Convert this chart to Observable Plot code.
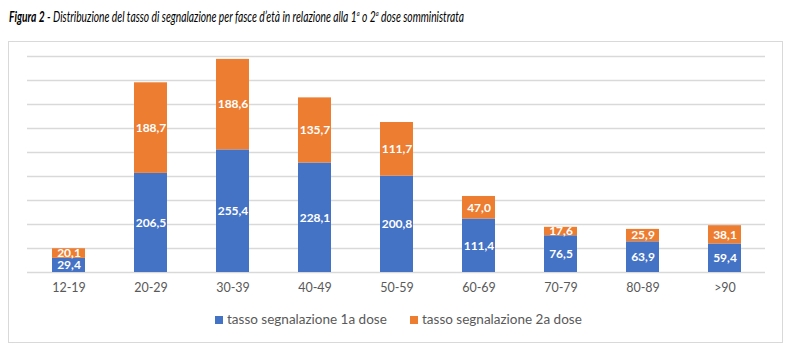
<!DOCTYPE html>
<html>
<head>
<meta charset="utf-8">
<script src="https://cdn.jsdelivr.net/npm/d3@7"></script>
<script src="https://cdn.jsdelivr.net/npm/@observablehq/plot@0.6"></script>
<style>
  body { margin: 0; background: #fff; width: 800px; height: 353px; position: relative; overflow: hidden; font-family: Lato, "Open Sans", sans-serif; }
  #title { position: absolute; left: 9px; top: 8px; font-size: 14.5px; font-style: italic; color: #000; white-space: nowrap; transform-origin: 0 50%; }
  #title b { font-weight: 700; }
  #box { position: absolute; left: 8px; top: 41px; width: 773px; height: 300px; border: 1px solid #d9d9d9; }
  #chart { position: absolute; left: 0; top: 41px; }
  #legend { position: absolute; top: 311px; left: 0; width: 800px; font-size: 13.5px; color: #595959; }
  .item { position: absolute; white-space: nowrap; }
  .sw { display: inline-block; width: 8px; height: 8px; margin-right: 4px; vertical-align: 0px; }
</style>
</head>
<body>
<div id="title"><b>Figura 2</b> - Distribuzione del tasso di segnalazione per fasce d’età in relazione alla 1<sup style="font-size:8px">a</sup> o 2<sup style="font-size:8px">a</sup> dose somministrata</div>
<div id="box"></div>
<div id="chart"></div>
<div id="legend"></div>
<script>
const categories = ["12-19", "20-29", "30-39", "40-49", "50-59", "60-69", "70-79", "80-89", ">90"];
const dose1 = [29.4, 206.5, 255.4, 228.1, 200.8, 111.4, 76.5, 63.9, 59.4];
const dose2 = [20.1, 188.7, 188.6, 135.7, 111.7, 47.0, 17.6, 25.9, 38.1];
const seriesNames = ["tasso segnalazione 1a dose", "tasso segnalazione 2a dose"];
const colors = ["#4472C4", "#ED7D31"];
const yTicks = [0, 50, 100, 150, 200, 250, 300, 350, 400, 450];

const rows = [];
categories.forEach((c, i) => {
  rows.push({cat: c, series: seriesNames[0], value: dose1[i]});
  rows.push({cat: c, series: seriesNames[1], value: dose2[i]});
});
const fmt = v => v.toFixed(1).replace(".", ",");

const chart = Plot.plot({
  width: 800,
  height: 264,
  marginLeft: 27,
  marginRight: 35,
  marginTop: 15,
  marginBottom: 33,
  style: {fontFamily: "Lato, 'Open Sans', sans-serif", background: "transparent"},
  x: {domain: categories, paddingInner: 0.6, paddingOuter: 0.3, label: null},
  y: {domain: [0, 450], label: null, axis: null},
  color: {domain: seriesNames, range: colors},
  marks: [
    Plot.ruleY(yTicks, {stroke: "#d9d9d9", strokeWidth: 1.3}),
    Plot.barY(rows, {x: "cat", y: "value", fill: "series", order: seriesNames}),
    Plot.text(rows, Plot.stackY({
      x: "cat", y: "value", z: "series", order: seriesNames,
      text: d => fmt(d.value), fill: "white", fontWeight: "bold", fontSize: 12
    })),
    Plot.axisX({tickSize: 0, tickPadding: 11, fontSize: 12.5, color: "#595959"})
  ]
});
document.getElementById("chart").appendChild(chart);

// fit title to the reference width
const title = document.getElementById("title");
const tw = title.getBoundingClientRect().width;
title.style.transform = `scaleX(${455 / tw})`;

const legend = document.getElementById("legend");
const lefts = [215, 410];
seriesNames.forEach((s, i) => {
  const d = document.createElement("div");
  d.className = "item";
  d.style.left = lefts[i] + "px";
  d.innerHTML = `<span class="sw" style="background:${colors[i]}"></span>${s}`;
  legend.appendChild(d);
});
</script>
</body>
</html>
